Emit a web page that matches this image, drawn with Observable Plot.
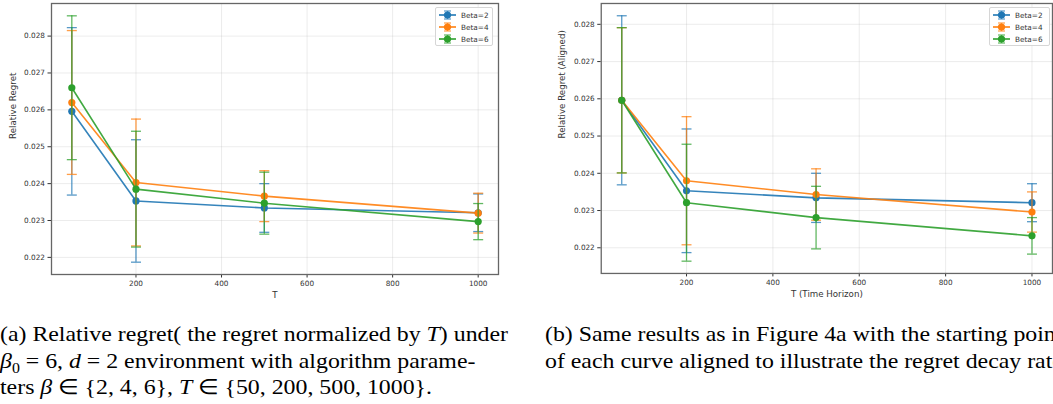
<!DOCTYPE html>
<html><head><meta charset="utf-8">
<script src="https://cdn.jsdelivr.net/npm/d3@7"></script>
<script src="https://cdn.jsdelivr.net/npm/@observablehq/plot@0.6"></script>
<style>
body{margin:0;background:#fff;}
#wrap{position:relative;width:1053px;height:404px;overflow:hidden;font-family:"DejaVu Sans",sans-serif;}
.panel{position:absolute;top:0;}
.legend{position:absolute;top:7px;height:39px;background:rgba(255,255,255,0.85);border:1px solid #d6d6d6;border-radius:2px;box-sizing:border-box;}
.legend .row{position:absolute;left:0;height:12px;display:flex;align-items:center;font-size:7.3px;color:#333;white-space:nowrap;}
.cap{position:absolute;top:321px;font-family:"Liberation Serif","Times New Roman",Times,serif;font-size:21px;line-height:26.7px;white-space:nowrap;color:#000;transform-origin:0 0;}
</style></head><body>
<div id="wrap">
  <div id="left" class="panel" style="left:0"></div>
  <div id="right" class="panel" style="left:530px"></div>
  <div id="legL" class="legend" style="left:435px;width:58px"></div>
  <div id="legR" class="legend" style="left:989px;width:61px"></div>
  <div id="capA" class="cap" style="left:0"><span class="l1">(a) Relative regret( the regret normalized by <i>T</i>) under</span><br><i>β</i><sub style="font-size:14px;line-height:0">0</sub> = 6, <i>d</i> = 2 environment with algorithm parame-<br>ters <i>β</i> ∈ {2, 4, 6}, <i>T</i> ∈ {50, 200, 500, 1000}.</div>
  <div id="capB" class="cap" style="left:545px"><span class="l1">(b) Same results as in Figure 4a with the starting point</span><br>of each curve aligned to illustrate the regret decay rate.</div>
</div>
<script>
// ---- data ----
const T = [50, 200, 500, 1000];
const seriesNames = ["Beta=2", "Beta=4", "Beta=6"];
const seriesColors = ["#1f77b4", "#ff7f0e", "#2ca02c"];

// panel (a): relative regret
const beta2Mean = [0.02596, 0.02353, 0.02334, 0.02321];
const beta4Mean = [0.02620, 0.02403, 0.02366, 0.02320];
const beta6Mean = [0.02660, 0.02385, 0.02347, 0.02297];
// panel (b): aligned
const beta2Aligned = [0.02596, 0.02353, 0.02334, 0.02321];
const beta4Aligned = [0.02596, 0.02380, 0.02343, 0.02296];
const beta6Aligned = [0.02596, 0.02321, 0.02281, 0.02232];
// error bar half-widths (same in both panels)
const beta2Err = [0.00227, 0.00166, 0.00066, 0.00051];
const beta4Err = [0.00195, 0.00172, 0.00069, 0.00054];
const beta6Err = [0.00195, 0.00157, 0.00084, 0.00049];

const xTicks = [200, 400, 600, 800, 1000];
const yTicks = [0.022, 0.023, 0.024, 0.025, 0.026, 0.027, 0.028];

// ---- build ----
function buildRows(meansList, errList) {
  const rows = [];
  meansList.forEach((means, s) => {
    means.forEach((m, i) => rows.push({series: seriesNames[s], color: seriesColors[s], T: T[i], mean: m, lo: m - errList[s][i], hi: m + errList[s][i]}));
  });
  return rows;
}
const capSymbol = {draw(ctx, size) { const w = Math.sqrt(size / Math.PI); ctx.moveTo(-w, 0); ctx.lineTo(w, 0); }};

function pad(lo, hi) { const r = hi - lo; return [lo - 0.05 * r, hi + 0.05 * r]; }

function panel({rows, width, marginLeft, marginRight, xLabel, yLabel, yLabelDx}) {
  const yDomain = pad(d3.min(rows, d => d.lo), d3.max(rows, d => d.hi));
  const xDomain = pad(d3.min(T), d3.max(T));
  const marks = [
    Plot.gridX(xTicks, {stroke: "#b0b0b0", strokeOpacity: 0.3, strokeWidth: 0.8}),
    Plot.gridY(yTicks, {stroke: "#b0b0b0", strokeOpacity: 0.3, strokeWidth: 0.8}),
    Plot.axisX(xTicks, {tickSize: 3.5, tickPadding: 2.5, fontSize: 7.3, label: null, tickFormat: d3.format("d"), stroke: "#333", fill: "#333"}),
    Plot.axisY(yTicks, {tickSize: 3.5, tickPadding: 3, fontSize: 7.3, label: null, tickFormat: d3.format(".3f"), stroke: "#333", fill: "#333"})
  ];
  seriesNames.forEach((name, s) => {
    const data = rows.filter(d => d.series === name);
    const c = seriesColors[s];
    marks.push(
      Plot.ruleX(data, {x: "T", y1: "lo", y2: "hi", stroke: c, strokeWidth: 1.3, strokeOpacity: 0.75}),
      Plot.dot(data, {x: "T", y: "lo", symbol: capSymbol, r: 5, fill: "none", stroke: c, strokeWidth: 1.3, strokeOpacity: 0.75}),
      Plot.dot(data, {x: "T", y: "hi", symbol: capSymbol, r: 5, fill: "none", stroke: c, strokeWidth: 1.3, strokeOpacity: 0.75}),
      Plot.line(data, {x: "T", y: "mean", stroke: c, strokeWidth: 1.6, strokeOpacity: 0.9}),
      Plot.dot(data, {x: "T", y: "mean", r: 3.6, fill: c, stroke: "none"})
    );
  });
  marks.push(
    Plot.frame({stroke: "#666", strokeWidth: 1.3}),
    Plot.text([xLabel], {text: d => d, frameAnchor: "bottom", dy: 21, lineAnchor: "middle", fontSize: 8.7, fill: "#333"}),
    Plot.text([yLabel], {text: d => d, frameAnchor: "left", dx: yLabelDx, rotate: -90, fontSize: 8.7, fill: "#333"})
  );
  return Plot.plot({
    width, height: 305, marginLeft, marginRight, marginTop: 3, marginBottom: 31,
    x: {domain: xDomain},
    y: {domain: yDomain},
    style: {fontFamily: "DejaVu Sans", fontSize: "7.3px", color: "#333", background: "transparent"},
    marks
  });
}

document.getElementById("left").append(panel({
  rows: buildRows([beta2Mean, beta4Mean, beta6Mean], [beta2Err, beta4Err, beta6Err]),
  width: 530, marginLeft: 51, marginRight: 32, xLabel: "T", yLabel: "Relative Regret", yLabelDx: -38
}));
document.getElementById("right").append(panel({
  rows: buildRows([beta2Aligned, beta4Aligned, beta6Aligned], [beta2Err, beta4Err, beta6Err]),
  width: 525, marginLeft: 71, marginRight: 1, xLabel: "T (Time Horizon)", yLabel: "Relative Regret (Aligned)", yLabelDx: -39
}));

// legends
function legend(el) {
  seriesNames.forEach((name, s) => {
    const c = seriesColors[s];
    const row = document.createElement("div");
    row.className = "row";
    row.style.top = (1 + s * 12) + "px";
    row.innerHTML = `<svg width="24" height="12" style="margin-left:1px"><line x1="2" x2="19" y1="6" y2="6" stroke="${c}" stroke-width="1.6"/><line x1="10.5" x2="10.5" y1="2" y2="10" stroke="${c}" stroke-width="1.2" stroke-opacity="0.75"/><line x1="7" x2="14" y1="2" y2="2" stroke="${c}" stroke-width="1.2" stroke-opacity="0.75"/><line x1="7" x2="14" y1="10" y2="10" stroke="${c}" stroke-width="1.2" stroke-opacity="0.75"/><circle cx="10.5" cy="6" r="3.6" fill="${c}"/></svg><span>${name}</span>`;
    el.append(row);
  });
}
legend(document.getElementById("legL"));
legend(document.getElementById("legR"));

// stretch captions horizontally so the first caption line spans ~508px as in the figure
const w1 = document.querySelector("#capA .l1").getBoundingClientRect().width;
const sx = 508 / w1;
document.getElementById("capA").style.transform = `scaleX(${sx})`;
document.getElementById("capB").style.transform = `scaleX(${sx})`;
</script>
</body></html>
